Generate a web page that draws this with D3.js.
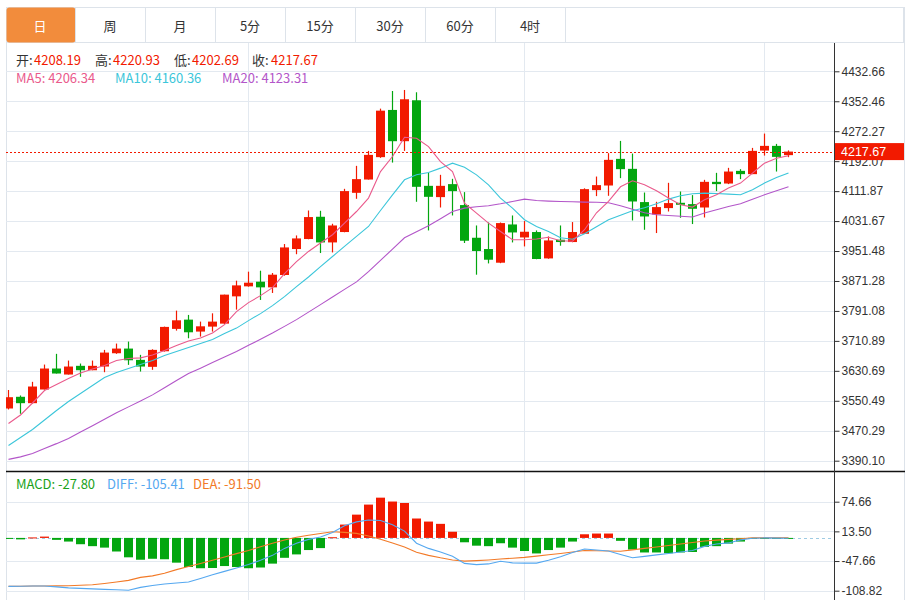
<!DOCTYPE html>
<html><head><meta charset="utf-8">
<script src="https://cdn.jsdelivr.net/npm/d3@7/dist/d3.min.js"></script>
<style>body{margin:0;background:#fff;}svg{display:block;}</style>
</head><body>
<svg id="c" width="913" height="600"></svg>
<script>
// ---------------- data ----------------
const tabs = ["日","周","月","5分","15分","30分","60分","4时"];
const opens = [3529.9,3561.2,3544.1,3580.7,3636.9,3620.8,3644.1,3632.3,3642.2,3677.8,
3690.3,3660.1,3641.4,3683.1,3743.0,3767.8,3735.8,3749.1,3757.1,3830.1,
3856.9,3869.4,3854.2,3887.3,3956.8,3983.6,4043.2,3974.5,4002.3,4107.3,
4142.9,4202.8,4329.2,4245.5,4355.1,4126.0,4095.8,4130.6,4074.5,3987.0,
3956.8,3920.2,4022.6,3987.8,4002.3,3931.7,3981.7,3975.5,3997.7,4114.5,
4126.9,4198.2,4171.5,4082.5,4049.3,4066.4,4080.6,4077.1,4068.0,4136.7,
4132.2,4166.1,4157.3,4220.4,4233.0,4208.19];
const highs = [3579.4,3564.7,3601.3,3647.5,3676.2,3658.2,3650.2,3658.2,3686.8,3703.7,
3709.0,3673.5,3688.4,3749.1,3791.9,3780.4,3762.5,3784.7,3834.7,3872.1,
3896.2,3898.8,3892.7,3970.2,3993.2,4060.0,4059.2,4024.5,4118.0,4179.5,
4219.6,4332.7,4380.0,4382.7,4376.5,4161.6,4155.5,4144.8,4109.2,4019.9,
4027.9,4027.9,4046.7,4031.7,4006.6,3990.5,4019.9,4029.0,4119.4,4150.9,
4213.5,4246.3,4212.4,4108.1,4083.3,4134.1,4110.8,4101.2,4142.1,4160.8,
4174.2,4170.7,4227.6,4265.9,4238.3,4220.93];
const lows = [3527.3,3515.8,3542.5,3580.7,3623.5,3620.8,3614.7,3632.3,3627.0,3676.2,
3646.7,3628.8,3633.4,3682.3,3738.4,3717.9,3722.4,3735.8,3755.8,3794.6,
3856.1,3820.5,3839.2,3885.4,3942.9,3983.0,3946.1,3947.7,4001.7,4091.3,
4142.9,4200.9,4188.3,4219.6,4083.3,4006.6,4068.0,4046.7,3972.9,3888.1,
3918.3,3918.9,3974.5,3963.8,3929.5,3930.9,3965.7,3975.0,3997.7,4098.5,
4099.3,4146.6,4033.3,4008.4,3999.6,4057.3,4040.5,4023.7,4041.3,4111.9,
4130.6,4144.0,4157.3,4207.0,4164.3,4202.69];
const closes = [3560.1,3544.1,3588.7,3636.9,3623.5,3642.2,3632.3,3644.1,3679.6,3690.3,
3659.0,3642.2,3686.8,3748.3,3766.0,3733.9,3749.9,3762.5,3834.7,3859.5,
3866.7,3854.2,3888.1,3961.1,3985.2,4042.4,3974.5,4019.9,4111.9,4144.0,
4208.9,4327.3,4245.5,4357.8,4123.4,4096.6,4126.0,4111.9,3979.0,3951.5,
3928.2,4026.3,4001.2,4003.1,3930.1,3979.8,3975.5,4002.3,4117.2,4127.9,
4195.6,4170.7,4084.1,4044.0,4069.1,4079.8,4075.3,4064.6,4136.7,4130.6,
4164.3,4157.3,4219.6,4233.0,4203.6,4217.67];
const ma5 = [3489.8,3512.5,3544.6,3578.0,3594.1,3610.1,3624.8,3635.5,3644.9,3658.2,
3663.6,3665.5,3672.9,3685.0,3698.3,3710.4,3718.4,3731.8,3754.5,3789.2,
3813.3,3832.0,3853.4,3890.8,3922.9,3950.4,3972.9,3995.1,4026.3,4057.3,
4093.2,4164.3,4204.4,4256.2,4253.6,4231.1,4191.0,4164.3,4079.8,4053.1,
4026.3,4003.9,3981.7,3981.7,3983.6,3988.4,3979.0,3977.7,4008.4,4053.9,
4084.6,4123.4,4139.4,4128.7,4112.7,4093.2,4075.3,4069.1,4088.6,4102.0,
4119.9,4133.3,4160.0,4186.7,4200.1,4206.34];
const ma10 = [3431.0,3452.4,3473.8,3499.2,3524.6,3548.6,3570.0,3591.4,3612.8,3626.2,
3636.9,3647.5,3658.2,3671.6,3682.3,3693.0,3703.7,3714.4,3730.4,3745.1,
3765.2,3783.9,3805.3,3829.3,3856.1,3882.0,3909.5,3936.8,3963.8,3990.5,
4017.2,4060.0,4102.0,4142.1,4155.5,4161.6,4173.4,4186.7,4176.0,4155.5,
4128.7,4093.2,4066.4,4035.2,4017.2,4003.9,3987.0,3983.0,3997.7,4016.4,
4035.2,4047.2,4059.2,4067.2,4077.9,4090.5,4099.3,4104.7,4106.5,4105.5,
4103.9,4102.0,4115.4,4133.3,4148.2,4160.36];
const ma20 = [3393.6,3400.3,3409.6,3423.0,3435.8,3449.7,3466.8,3483.9,3501.1,3518.2,
3534.2,3550.2,3566.3,3585.3,3604.8,3623.5,3637.9,3652.9,3667.9,3682.3,
3699.1,3715.2,3731.8,3749.7,3767.8,3787.9,3807.9,3828.5,3848.8,3868.9,
3896.2,3926.4,3956.6,3987.0,4003.1,4019.1,4037.8,4057.3,4066.4,4069.9,
4072.6,4077.9,4084.1,4090.5,4086.8,4085.1,4084.1,4083.3,4082.5,4081.9,
4080.6,4072.6,4063.2,4053.9,4048.5,4046.4,4044.5,4042.4,4053.1,4061.9,
4070.7,4077.9,4090.0,4102.0,4112.7,4123.31];
const macd = [-1,-3,1,2.7,-4,-7.5,-13,-17,-20,-28,
-40,-45,-43,-44,-51,-60,-62.5,-62,-58,-60,
-62.5,-61,-53,-41,-34,-25,-21,1.4,27.5,48,
68.7,83,75,72,40,33.7,29,12.7,-9,-16,
-17,-11,-20,-27,-32,-25,-20,-7.5,7.5,9,
9,-6,-24,-30,-30,-31.6,-30,-29,-18.5,-17,
-11.7,-7.5,-1.2,-0.8,-0.5,-0.3];
const diff = [-100,-99.6,-99,-99,-101,-103,-104,-105,-106,-107,
-108,-102,-98,-95,-93,-91,-83.5,-76,-69,-62,
-55,-46,-36,-21.6,-11,-3,2,11,25,33,
37,36,27,14,-11,-21.6,-29,-38,-52.5,-55,
-53.6,-48,-51.5,-52,-52,-46,-39,-30,-23,-25,
-27,-34,-41,-38,-35,-32,-29,-26,-17.5,-12.4,
-10.3,-4,-0.6,0,-0.4,-0.6];
const dea = [-100,-99.6,-99.2,-99,-98.8,-98.5,-97.5,-96.5,-94,-91,
-87.6,-81.4,-78.3,-72.8,-65.4,-58.8,-52.6,-46,-39.2,-32.4,
-25.8,-18.4,-11.1,-4.3,1.4,5.6,9.1,12.6,11.5,9.3,
3.9,-2.7,-10.3,-18.8,-29.5,-36,-41,-45.4,-47.8,-46.8,
-45.4,-43.5,-41.9,-40.2,-37.5,-34.6,-32,-28.9,-25.8,-26.4,
-27,-27.4,-24.7,-21.6,-18.6,-15.5,-12.4,-9.3,-6.4,-4.5,
-3.1,-1.6,0,0.4,0.4,0.4];
const priceTicks = ["3390.10","3470.29","3550.49","3630.69","3710.89","3791.08","3871.28",
"3951.48","4031.67","4111.87","4192.07","4272.27","4352.46","4432.66"];
const macdTicks = ["74.66","13.50","-47.66","-108.82"];
const gridIdx = [20,43,63];
const ohlcLabels = ["开:","高:","低:","收:"];
const ohlcValues = ["4208.19","4220.93","4202.69","4217.67"];
const maLabels = ["MA5: 4206.34","MA10: 4160.36","MA20: 4123.31"];
const macdLabels = ["MACD: -27.80","DIFF: -105.41","DEA: -91.50"];
const lastPrice = 4217.67;

// ---------------- layout ----------------
const L = 6, R = 834, OR = 904;
const mainTop = 43, mainBot = 471, subBot = 600;
const RED = "#f21a00", GREEN = "#03a60f";
const C_MA5 = "#ea5a8c", C_MA10 = "#3cc6da", C_MA20 = "#b356c9";
const C_DIFF = "#55a8f0", C_DEA = "#f27a28", C_MACD = "#1aa11a";
const GRID = "#e3e9f0";
const CJK = "'Noto Sans CJK SC','Noto Sans',sans-serif";
const AX = "'Liberation Sans',Arial,sans-serif";

const svg = d3.select("#c");
const n = closes.length;
const x = d3.scaleBand().domain(d3.range(n)).range([2.5, 2.5 + 12 * n]);
const cx = i => x(i) + x.bandwidth() / 2;
const bw = 9;
const y = d3.scaleLinear().domain([+priceTicks[0], +priceTicks[priceTicks.length-1]]).range([460.7, 71.3]);
const ym = d3.scaleLinear().domain([+macdTicks[3], +macdTicks[0]]).range([590.7, 501.7]);

// clip
const defs = svg.append("defs");
defs.append("clipPath").attr("id","clipMain").append("rect").attr("x",L).attr("y",mainTop).attr("width",R-L).attr("height",mainBot-mainTop);
defs.append("clipPath").attr("id","clipSub").append("rect").attr("x",L).attr("y",mainBot).attr("width",R-L).attr("height",subBot-mainBot);

// tabs
const tabG = svg.append("g");
tabG.append("rect").attr("x",L+0.5).attr("y",7.5).attr("width",OR-L-1).attr("height",35).attr("fill","#fff").attr("stroke","#dde3ea");
tabG.append("rect").attr("x",L+0.5).attr("y",7.5).attr("width",69).attr("height",35).attr("rx",3).attr("fill","#f28c3c");
tabs.forEach((t,k) => {
  if (k>0) tabG.append("line").attr("x1",75.5+70*k-70).attr("x2",75.5+70*k-70).attr("y1",8).attr("y2",42).attr("stroke","#dde3ea");
  tabG.append("text").attr("x",40+70*k).attr("y",25).attr("text-anchor","middle").attr("dominant-baseline","central")
    .attr("font-family",CJK).attr("font-size",13).attr("fill",k===0?"#fff":"#333").text(t);
});
tabG.append("line").attr("x1",565.5).attr("x2",565.5).attr("y1",8).attr("y2",42).attr("stroke","#dde3ea");

// frame
svg.append("line").attr("x1",L+0.5).attr("x2",L+0.5).attr("y1",43).attr("y2",600).attr("stroke","#dde3ea");
svg.append("line").attr("x1",OR+0.5).attr("x2",OR+0.5).attr("y1",7).attr("y2",600).attr("stroke","#dde3ea");

// grid main
const g = svg.append("g");
priceTicks.forEach(t => g.append("line").attr("x1",L).attr("x2",R).attr("y1",Math.round(y(+t))+0.5).attr("y2",Math.round(y(+t))+0.5).attr("stroke",GRID));
macdTicks.forEach(t => g.append("line").attr("x1",L).attr("x2",R).attr("y1",Math.round(ym(+t))+0.5).attr("y2",Math.round(ym(+t))+0.5).attr("stroke",GRID));
gridIdx.forEach(i => g.append("line").attr("x1",Math.floor(cx(i))+0.5).attr("x2",Math.floor(cx(i))+0.5).attr("y1",mainTop).attr("y2",subBot).attr("stroke",GRID));

// candles
const cg = svg.append("g").attr("clip-path","url(#clipMain)");
d3.range(n).forEach(i => {
  const up = closes[i] >= opens[i];
  const col = up ? RED : GREEN;
  const xc = Math.floor(cx(i)) + 0.5;
  cg.append("line").attr("x1",xc).attr("x2",xc).attr("y1",y(highs[i])).attr("y2",y(lows[i])).attr("stroke",col).attr("stroke-width",1.2);
  const top = y(Math.max(opens[i],closes[i])), bot = y(Math.min(opens[i],closes[i]));
  cg.append("rect").attr("x",xc-bw/2).attr("y",top).attr("width",bw).attr("height",Math.max(1.2,bot-top)).attr("fill",col);
});

// MA lines
const lineMain = arr => d3.line().x((d,i)=>cx(i)).y(d=>y(d))(arr);
[[ma20,C_MA20],[ma10,C_MA10],[ma5,C_MA5]].forEach(([arr,c]) => {
  cg.append("path").attr("d",lineMain(arr)).attr("fill","none").attr("stroke",c).attr("stroke-width",1.1);
});

// last price line
svg.append("line").attr("x1",L).attr("x2",R).attr("y1",Math.round(y(lastPrice))+0.5).attr("y2",Math.round(y(lastPrice))+0.5)
  .attr("stroke",RED).attr("stroke-width",1).attr("stroke-dasharray","2,2");

// MACD
const sg = svg.append("g").attr("clip-path","url(#clipSub)");
const z = ym(0);
sg.append("line").attr("x1",L).attr("x2",R).attr("y1",Math.round(z)+0.5).attr("y2",Math.round(z)+0.5).attr("stroke","#9fcbe3").attr("stroke-dasharray","3,3");
d3.range(n).forEach(i => {
  const v = macd[i];
  const col = v >= 0 ? RED : GREEN;
  const xc = Math.floor(cx(i)) + 0.5;
  const a = ym(v);
  sg.append("rect").attr("x",xc-bw/2).attr("y",Math.min(a,z)).attr("width",bw).attr("height",Math.max(1,Math.abs(a-z))).attr("fill",col);
});
const lineSub = arr => d3.line().x((d,i)=>cx(i)).y(d=>ym(d))(arr);
sg.append("path").attr("d",lineSub(dea)).attr("fill","none").attr("stroke",C_DEA).attr("stroke-width",1.1);
sg.append("path").attr("d",lineSub(diff)).attr("fill","none").attr("stroke",C_DIFF).attr("stroke-width",1.1);

// separator between panels
svg.append("line").attr("x1",L).attr("x2",OR+1).attr("y1",471.5).attr("y2",471.5).attr("stroke","#111").attr("stroke-width",1.5);

// axes
const axG = svg.append("g").attr("transform",`translate(${R+0.5},0)`)
  .call(d3.axisRight(y).tickValues(priceTicks.map(Number)).tickFormat((d,i)=>priceTicks[i]).tickSize(5).tickPadding(2));
const axS = svg.append("g").attr("transform",`translate(${R+0.5},0)`)
  .call(d3.axisRight(ym).tickValues(macdTicks.map(Number)).tickFormat((d,i)=>macdTicks[i]).tickSize(5).tickPadding(2));
[axG,axS].forEach(a => {
  a.select(".domain").remove();
  a.selectAll("line").attr("stroke","#333");
  a.selectAll("text").attr("font-family",AX).attr("font-size",12).attr("fill","#333");
});
svg.append("line").attr("x1",R+0.5).attr("x2",R+0.5).attr("y1",mainTop).attr("y2",subBot).attr("stroke","#333");

// last price label
const ly = y(lastPrice);
svg.append("rect").attr("x",R+1).attr("y",ly-8.5).attr("width",OR-R-1).attr("height",17).attr("fill",RED);
svg.append("text").attr("x",R+7).attr("y",ly).attr("dominant-baseline","central").attr("font-family",AX).attr("font-size",12.5)
  .attr("fill","#fff").text(lastPrice.toFixed(2));

// legends
const lg = svg.append("g").attr("font-family",CJK).attr("font-size",13);
const ohlcX = [16,95,174,252], ohlcVX = [34,113,192,271];
ohlcLabels.forEach((t,k) => {
  lg.append("text").attr("x",ohlcX[k]).attr("y",59).attr("dominant-baseline","central").attr("fill","#333").text(t);
  lg.append("text").attr("x",ohlcVX[k]).attr("y",59).attr("dominant-baseline","central").attr("fill",RED).text(ohlcValues[k]);
});
const maX = [16,115,222], maC = [C_MA5,C_MA10,C_MA20];
maLabels.forEach((t,k) => lg.append("text").attr("x",maX[k]).attr("y",77).attr("dominant-baseline","central").attr("fill",maC[k]).text(t));
const mX = [16,107,193], mC = [C_MACD,C_DIFF,C_DEA];
macdLabels.forEach((t,k) => lg.append("text").attr("x",mX[k]).attr("y",483).attr("dominant-baseline","central").attr("fill",mC[k]).text(t));
</script>
</body></html>
